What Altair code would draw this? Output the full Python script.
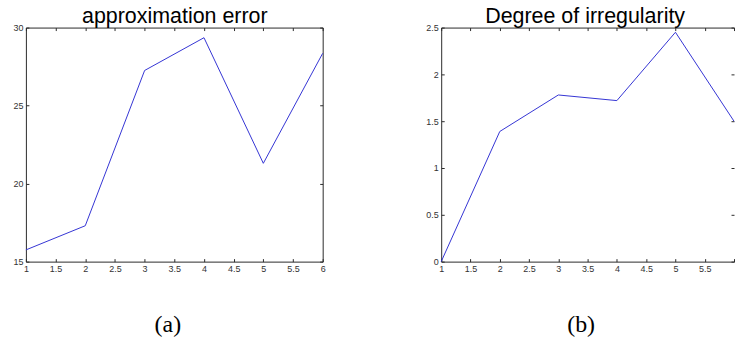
import altair as alt
import pandas as pd

# ---- data ----
steps = [1, 2, 3, 4, 5, 6]
approx_error = [15.75, 17.3, 27.25, 29.35, 21.3, 28.35]
irregularity = [0.0, 1.39, 1.78, 1.72, 2.45, 1.5]

x_ticks = [1, 1.5, 2, 2.5, 3, 3.5, 4, 4.5, 5, 5.5, 6]
x_labels_a = [1, 1.5, 2, 2.5, 3, 3.5, 4, 4.5, 5, 5.5, 6]
x_labels_b = [1, 1.5, 2, 2.5, 3, 3.5, 4, 4.5, 5, 5.5]
y_ticks_a = [15, 20, 25, 30]
y_ticks_b = [0, 0.5, 1, 1.5, 2, 2.5]

titles = ["approximation error", "Degree of irregularity"]
captions = ["(a)", "(b)"]

FRAME = "#2a2a2a"
LABEL = "#333333"
LINE = "#3434d4"
SANS = "Liberation Sans"
SERIF = "Liberation Serif"


def panel(values, title, caption, ydom, yticks, xlabels, W, H, cap_x, title_x, right_frame):
    df = pd.DataFrame({"x": steps, "y": values})
    xs = alt.Scale(domain=[1, 6], nice=False, zero=False)
    ys = alt.Scale(domain=ydom, nice=False, zero=False)
    lab = dict(labelFont=SANS, labelFontSize=9, labelColor=LABEL, labelFlush=False,
               labelPadding=3, format="~g", grid=False)
    main = alt.Chart(df).mark_line(color=LINE, strokeWidth=1).encode(
        x=alt.X("x:Q", scale=xs, axis=alt.Axis(
            orient="bottom", values=xlabels, ticks=False, tickSize=0,
            domain=True, domainColor=FRAME, domainWidth=1,
            title=caption, titleFont=SERIF, titleFontSize=24, titleFontWeight="normal",
            titleColor="black", titleX=cap_x, titleY=70, titleAlign="center",
            titleBaseline="alphabetic", **lab)),
        y=alt.Y("y:Q", scale=ys, axis=alt.Axis(
            orient="left", values=yticks, ticks=False, tickSize=0,
            domain=True, domainColor=FRAME, domainWidth=1,
            minExtent=25, maxExtent=25, title=None, **lab)),
    )
    tick = dict(labels=False, ticks=True, tickSize=3, tickColor=FRAME, tickWidth=1,
                minExtent=0, maxExtent=0, title=None, grid=False)
    inner1 = alt.Chart(df).mark_line(opacity=0).encode(
        x=alt.X("x:Q", scale=xs, axis=alt.Axis(orient="top", offset=-H, values=x_ticks,
                                                domain=False, **tick)),
        y=alt.Y("y:Q", scale=ys, axis=alt.Axis(orient="right", offset=-W, values=yticks,
                                                domain=False, **tick)),
    )
    inner2 = alt.Chart(df).mark_line(opacity=0).encode(
        x=alt.X("x:Q", scale=xs, axis=alt.Axis(orient="bottom", offset=-H, values=x_ticks,
                                                domain=True, domainColor=FRAME, domainWidth=1,
                                                **tick)),
        y=alt.Y("y:Q", scale=ys, axis=alt.Axis(orient="left", offset=-W, values=yticks,
                                                domain=right_frame, domainColor=FRAME,
                                                domainWidth=1, **tick)),
    )
    # chart title drawn as the title of an empty top axis
    head = alt.Chart(df).mark_line(opacity=0).encode(
        x=alt.X("x:Q", scale=xs, axis=alt.Axis(
            orient="top", labels=False, ticks=False, domain=False, grid=False,
            title=title, titleFont=SANS, titleFontSize=21.5, titleFontWeight="normal",
            titleColor="black", titleX=title_x, titleY=-5, titleAlign="center",
            titleBaseline="alphabetic")),
        y=alt.Y("y:Q", scale=ys, axis=None),
    )
    return alt.layer(main, inner1, inner2, head).resolve_axis(
        x="independent", y="independent"
    ).properties(width=W, height=H)


pa = panel(approx_error, titles[0], captions[0], [15, 30], y_ticks_a, x_labels_a,
           298, 235, 142, 149, True)
pb = panel(irregularity, titles[1], captions[1], [0, 2.5], y_ticks_b, x_labels_b,
           294, 235, 140, 144, False)

chart = alt.hconcat(pa, pb, spacing=119, bounds="flush").properties(
    padding={"left": 0, "top": 4, "right": 0, "bottom": 0}
).configure_view(stroke="transparent")

chart.save("out.html", embed_options={"renderer": "svg", "actions": False})
